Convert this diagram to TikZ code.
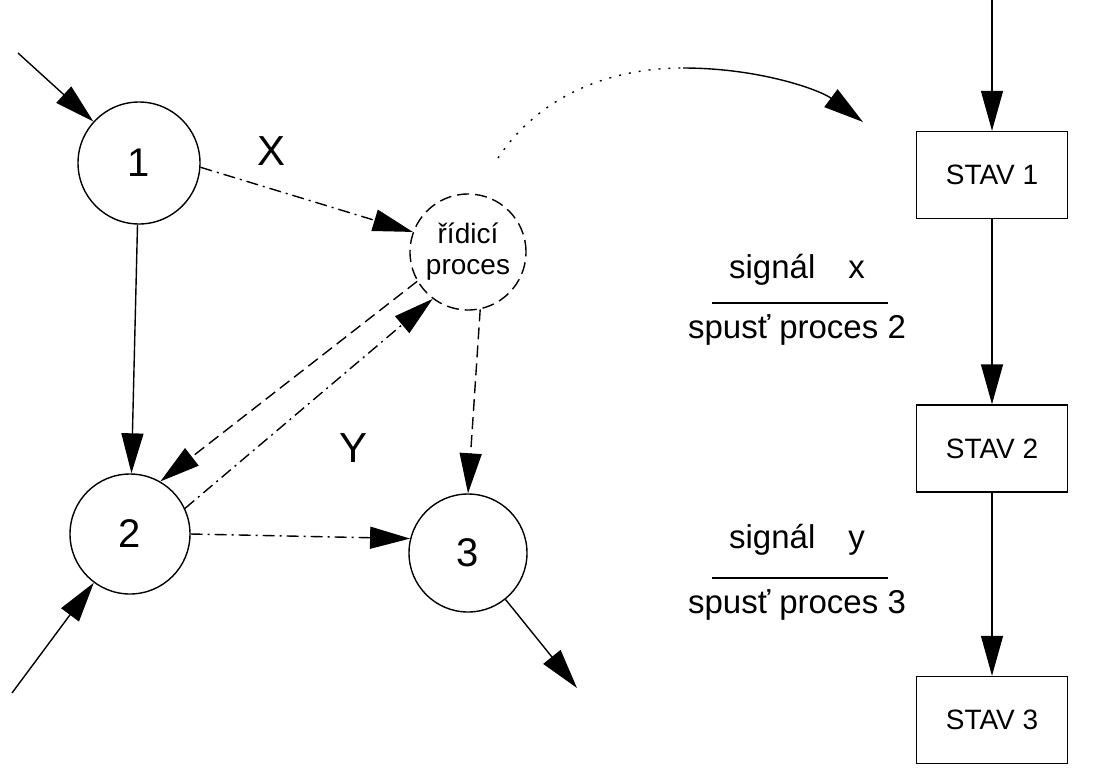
\documentclass[tikz,border=0pt]{standalone}
\usepackage{fontspec}
\setmainfont{Liberation Sans}
\usetikzlibrary{arrows.meta}
\begin{document}
\begin{tikzpicture}[x=1pt,y=-1pt, line width=1.4pt,
  circ/.style={draw, circle, inner sep=0pt, font=\fontsize{40}{44}\selectfont},
  arr/.style={-{Triangle[length=40pt,width=22pt]}},
  box/.style={draw, rectangle, minimum width=151pt, minimum height=87pt, inner sep=0pt, font=\fontsize{28}{32}\selectfont},
  lbl/.style={font=\fontsize{33}{36}\selectfont, inner sep=0pt, anchor=base},
  big/.style={font=\fontsize{42}{46}\selectfont, inner sep=0pt},
  dsh/.style={dash pattern=on 12pt off 6pt},
  dshdot/.style={dash pattern=on 12pt off 5pt on 2pt off 5pt},
]
\useasboundingbox (0,0) rectangle (1116,769);

% left graph
\node[circ, minimum size=122pt] (n1) at (139,163) {1};
\node[circ, dsh, minimum size=116pt, align=center, font=\fontsize{28}{31}\selectfont] (r) at (468,252) {řídicí\\proces};
\node[circ, minimum size=120pt] (n2) at (130,534) {2};
\node[circ, minimum size=118pt] (n3) at (468,553) {3};
\node[big] (lx) at (272,151) {X};
\node[big] (ly) at (354,448) {Y};

\coordinate (a1) at (18,53);
\coordinate (a2) at (12,693);
\coordinate (a3) at (577,688);

\draw[arr] (a1) -- (n1);
\draw[arr] (n1) -- (n2);
\draw[arr, dshdot] (n1.-4) -- (r.160);
\draw[arr, dsh] (r.210) -- (n2.60);
\draw[arr, dshdot] (n2.25) -- (r.233);
\draw[arr, dsh] (r.-78) -- (n3.north);
\draw[arr, dshdot] (n2.east) -- (n3.166);
\draw[arr] (a2) -- (n2);
\draw[arr] (n3) -- (a3);

% curved arrow
\coordinate (c0) at (498,158);
\coordinate (c1) at (683,68);
\coordinate (c2) at (863,122);
\draw[dash pattern=on 2pt off 8pt] (c0) .. controls (540,95) and (610,68) .. (c1);
\draw[arr] (c1) .. controls (760,68) and (820,90) .. (c2);

% right state diagram
\node[box] (s1) at (992,175) {STAV 1};
\node[box] (s2) at (992,448.5) {STAV 2};
\node[box] (s3) at (992,720) {STAV 3};
\coordinate (t0) at (992,0);
\draw[arr] (t0) -- (s1);
\draw[arr] (s1) -- (s2);
\draw[arr] (s2) -- (s3);

\node[lbl] (sx) at (797,278) {signál\quad x};
\node[lbl] (p2) at (797,338) {spusť proces 2};
\coordinate (f1a) at (712,303);
\coordinate (f1b) at (888,303);
\draw (f1a) -- (f1b);

\node[lbl] (sy) at (797,548) {signál\quad y};
\node[lbl] (p3) at (797,613) {spusť proces 3};
\coordinate (f2a) at (712,578);
\coordinate (f2b) at (888,578);
\draw (f2a) -- (f2b);
\end{tikzpicture}
\end{document}
